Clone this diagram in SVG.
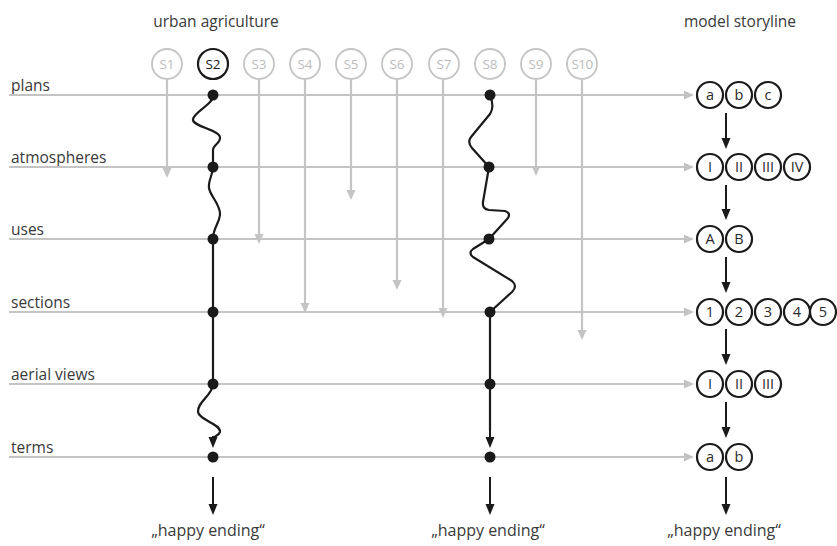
<svg xmlns="http://www.w3.org/2000/svg" width="837" height="546" viewBox="0 0 837 546">
<style>
.lbl{font-family:"Open Sans","Liberation Sans",sans-serif;font-size:15.5px;fill:#3a3a3a}
.hdr{font-family:"Open Sans","Liberation Sans",sans-serif;font-size:15.5px;fill:#3a3a3a;text-anchor:middle}
.end{font-family:"Open Sans","Liberation Sans",sans-serif;font-size:16px;fill:#3a3a3a;text-anchor:middle}
.gc{fill:#fff;stroke:#c4c4c4;stroke-width:1.8}
.gt{font-family:"Open Sans","Liberation Sans",sans-serif;font-size:13.5px;fill:#bcbcbc;text-anchor:middle}
.bc{fill:#fff;stroke:#1a1a1a;stroke-width:2.2}
.bt{font-family:"Open Sans","Liberation Sans",sans-serif;font-size:14.5px;fill:#2a2a2a;text-anchor:middle}
.st{font-family:"Open Sans","Liberation Sans",sans-serif;font-size:13.5px;fill:#1a1a1a;text-anchor:middle}
.ga{stroke:#c4c4c4;stroke-width:2.2;fill:none;marker-end:url(#gArr)}
.bl{stroke:#1a1a1a;stroke-width:2.2;fill:none;stroke-linejoin:round;stroke-linecap:round}
.ba{stroke:#1a1a1a;stroke-width:2;fill:none;marker-end:url(#bArr)}
.dot{fill:#1a1a1a}
</style>
<defs>
<marker id="gArr" markerUnits="userSpaceOnUse" markerWidth="12" markerHeight="10" refX="3" refY="4.5" orient="auto" viewBox="0 0 12 10">
<path d="M0,0 L10,4.5 L0,9 z" fill="#c4c4c4"/>
</marker>
<marker id="bArr" markerUnits="userSpaceOnUse" markerWidth="12" markerHeight="10" refX="3" refY="4.5" orient="auto" viewBox="0 0 12 10">
<path d="M0,0 L11,4.5 L0,9 z" fill="#1a1a1a"/>
</marker>
</defs>
<rect width="837" height="546" fill="#fff"/>
<g opacity="0.995">
<g id="headers">
<text class="hdr" x="216" y="27">urban agriculture</text>
<text class="hdr" x="740" y="27">model storyline</text>
</g>

<g id="row-labels">
<text class="lbl" x="11" y="91">plans</text>
<text class="lbl" x="11" y="163">atmospheres</text>
<text class="lbl" x="11" y="235">uses</text>
<text class="lbl" x="11" y="308">sections</text>
<text class="lbl" x="11" y="380">aerial views</text>
<text class="lbl" x="11" y="453">terms</text>
</g>

<g id="connectors">
<line class="ga" x1="9" y1="95" x2="687" y2="95"/>
<line class="ga" x1="9" y1="167" x2="687" y2="167"/>
<line class="ga" x1="9" y1="239" x2="687" y2="239"/>
<line class="ga" x1="9" y1="312" x2="687" y2="312"/>
<line class="ga" x1="9" y1="384" x2="687" y2="384"/>
<line class="ga" x1="9" y1="457" x2="687" y2="457"/>
<line class="ga" x1="167" y1="80" x2="167" y2="171"/>
<line class="ga" x1="259" y1="80" x2="259" y2="237"/>
<line class="ga" x1="305" y1="80" x2="305" y2="306"/>
<line class="ga" x1="351" y1="80" x2="351" y2="193"/>
<line class="ga" x1="397" y1="80" x2="397" y2="283"/>
<line class="ga" x1="443" y1="80" x2="443" y2="311"/>
<line class="ga" x1="536" y1="80" x2="536" y2="169"/>
<line class="ga" x1="582" y1="80" x2="582" y2="333"/>
<path class="bl" d="M213,95 C214,104 195,111 193,119 C191,126 219,130 220,137 C221,143 213,145 213,150 L213,167"/>
<path class="bl" d="M213,167 C213,175 208,180 209,188 C210,196 221,205 220,215 C219,224 213,228 213,239"/>
<path class="bl" d="M213,239 L213,384"/>
<path class="bl" d="M213,384 C213,395 197,402 198,412 C199,420 221,424 220,432 C219,436 213,436 213,439"/>
<path class="ba" d="M213,436 L213,440"/>
<path class="bl" d="M490,95 C492,100 494,108 490,114 L471,137 Q467,142 472,148 L489,167"/>
<path class="bl" d="M489,167 L483,202 Q482,209 489,210 L505,211 Q511,213 508,218 L489,239"/>
<path class="bl" d="M489,239 L473,249 Q468,253 473,257 L512,281 Q518,286 512,292 L490,312"/>
<path class="bl" d="M490,312 L490,430"/>
<path class="ba" d="M490,430 L490,440"/>
<line class="ba" x1="726" y1="113" x2="726" y2="141"/>
<line class="ba" x1="726" y1="185" x2="726" y2="212"/>
<line class="ba" x1="726" y1="257" x2="726" y2="285"/>
<line class="ba" x1="726" y1="329" x2="726" y2="357"/>
<line class="ba" x1="726" y1="402" x2="726" y2="430"/>
<line class="ba" x1="213" y1="477" x2="213" y2="507"/>
<line class="ba" x1="490" y1="477" x2="490" y2="507"/>
<line class="ba" x1="726" y1="477" x2="726" y2="507"/>
</g>

<g id="dots">
<circle class="dot" cx="213" cy="95" r="5.5"/>
<circle class="dot" cx="213" cy="167" r="5.5"/>
<circle class="dot" cx="213" cy="239" r="5.5"/>
<circle class="dot" cx="213" cy="312" r="5.5"/>
<circle class="dot" cx="213" cy="384" r="5.5"/>
<circle class="dot" cx="213" cy="457" r="5.5"/>
<circle class="dot" cx="490" cy="95" r="5.5"/>
<circle class="dot" cx="489" cy="167" r="5.5"/>
<circle class="dot" cx="489" cy="239" r="5.5"/>
<circle class="dot" cx="490" cy="312" r="5.5"/>
<circle class="dot" cx="490" cy="384" r="5.5"/>
<circle class="dot" cx="490" cy="457" r="5.5"/>
</g>

<g id="S1"><circle class="gc" cx="167" cy="64" r="15"/><text class="gt" x="167" y="69">S1</text></g>
<g id="S2"><circle class="bc" cx="213" cy="64" r="15"/><text class="st" x="213" y="69">S2</text></g>
<g id="S3"><circle class="gc" cx="259" cy="64" r="15"/><text class="gt" x="259" y="69">S3</text></g>
<g id="S4"><circle class="gc" cx="305" cy="64" r="15"/><text class="gt" x="305" y="69">S4</text></g>
<g id="S5"><circle class="gc" cx="351" cy="64" r="15"/><text class="gt" x="351" y="69">S5</text></g>
<g id="S6"><circle class="gc" cx="397" cy="64" r="15"/><text class="gt" x="397" y="69">S6</text></g>
<g id="S7"><circle class="gc" cx="444" cy="64" r="15"/><text class="gt" x="444" y="69">S7</text></g>
<g id="S8"><circle class="gc" cx="490" cy="64" r="15"/><text class="gt" x="490" y="69">S8</text></g>
<g id="S9"><circle class="gc" cx="536" cy="64" r="15"/><text class="gt" x="536" y="69">S9</text></g>
<g id="S10"><circle class="gc" cx="582" cy="64" r="15"/><text class="gt" x="582" y="69" style="letter-spacing:-0.6px">S10</text></g>

<g id="model-plans">
<circle class="bc" cx="710" cy="95" r="13"/><text class="bt" x="710" y="100">a</text>
<circle class="bc" cx="739" cy="95" r="13"/><text class="bt" x="739" y="100">b</text>
<circle class="bc" cx="768" cy="95" r="13"/><text class="bt" x="768" y="100">c</text>
</g>
<g id="model-atmospheres">
<circle class="bc" cx="710" cy="167" r="13"/><text class="bt" x="710" y="172">I</text>
<circle class="bc" cx="739" cy="167" r="13"/><text class="bt" x="739" y="172">II</text>
<circle class="bc" cx="768" cy="167" r="13"/><text class="bt" x="768" y="172">III</text>
<circle class="bc" cx="797" cy="167" r="13"/><text class="bt" x="797" y="172">IV</text>
</g>
<g id="model-uses">
<circle class="bc" cx="710" cy="239" r="13"/><text class="bt" x="710" y="244">A</text>
<circle class="bc" cx="739" cy="239" r="13"/><text class="bt" x="739" y="244">B</text>
</g>
<g id="model-sections">
<circle class="bc" cx="710" cy="312" r="13"/><text class="bt" x="710" y="317">1</text>
<circle class="bc" cx="739" cy="312" r="13"/><text class="bt" x="739" y="317">2</text>
<circle class="bc" cx="768" cy="312" r="13"/><text class="bt" x="768" y="317">3</text>
<circle class="bc" cx="797" cy="312" r="13"/><text class="bt" x="797" y="317">4</text>
<circle class="bc" cx="823" cy="312" r="13"/><text class="bt" x="823" y="317">5</text>
</g>
<g id="model-aerial">
<circle class="bc" cx="710" cy="384" r="13"/><text class="bt" x="710" y="389">I</text>
<circle class="bc" cx="739" cy="384" r="13"/><text class="bt" x="739" y="389">II</text>
<circle class="bc" cx="768" cy="384" r="13"/><text class="bt" x="768" y="389">III</text>
</g>
<g id="model-terms">
<circle class="bc" cx="710" cy="457" r="13"/><text class="bt" x="710" y="462">a</text>
<circle class="bc" cx="739" cy="457" r="13"/><text class="bt" x="739" y="462">b</text>
</g>

<g id="endings">
<text class="end" x="208" y="536">„happy ending“</text>
<text class="end" x="488" y="536">„happy ending“</text>
<text class="end" x="724" y="536">„happy ending“</text>
</g>
</g>
</svg>
